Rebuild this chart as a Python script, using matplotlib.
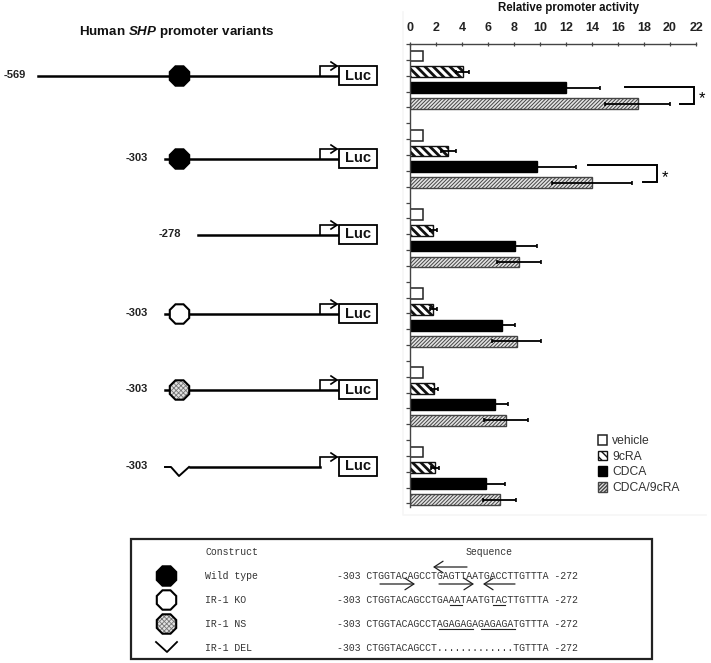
import matplotlib
matplotlib.use("Agg")
import matplotlib.pyplot as plt
from matplotlib.patches import Rectangle, RegularPolygon, FancyArrowPatch
import numpy as np

plt.rcParams['font.family'] = ['Liberation Sans', 'DejaVu Sans']
plt.rcParams['mathtext.fontset'] = 'custom'
plt.rcParams['mathtext.bfit'] = 'Liberation Sans:italic:bold'

W, H = 711, 663
GROUPS = 6
vehicle = [1, 1, 1, 1, 1, 1]
cra = [4.05, 2.95, 1.8, 1.8, 1.87, 1.92]
cdca = [12.0, 9.8, 8.1, 7.1, 6.55, 5.85]
combo = [17.5, 14.0, 8.4, 8.2, 7.4, 6.9]
cra_err = [0.5, 0.55, 0.3, 0.3, 0.25, 0.33]
cdca_err = [2.6, 3.0, 1.7, 1.0, 0.95, 1.45]
combo_err = [2.5, 3.1, 1.7, 1.9, 1.7, 1.25]
xticks = list(range(0, 23, 2))
series_names = ['vehicle', '9cRA', 'CDCA', 'CDCA/9cRA']

row_y = [76, 159, 235, 314, 390, 467]
row_labels = ['-569', '-303', '-278', '-303', '-303', '-303']
row_label_x = [15, 137, 170, 137, 137, 137]
row_start = [38, 165, 198, 165, 165, 165]
row_site = ['wt', 'wt', None, 'ko', 'ns', 'del']

fig = plt.figure(figsize=(W / 100, H / 100), dpi=100, facecolor='white')

# ---------- overlay in pixel coordinates ----------
ov = fig.add_axes([0, 0, 1, 1], zorder=3)
ov.set_xlim(0, W); ov.set_ylim(H, 0); ov.axis('off'); ov.patch.set_alpha(0)

# faint panel edge around the chart
ov.plot([403, 403, 706], [12, 515, 515], color='#f6f6f6', lw=1.2, zorder=0)

# ---------- bar chart ----------
L, R, T, B = 410, 696, 44, 507
ax = fig.add_axes([L / W, 1 - B / H, (R - L) / W, (B - T) / H], zorder=2)
slot = 15.84
ax.set_xlim(0, 22)
ax.set_ylim((B - 56) / slot, (T - 56) / slot)
pos = np.arange(GROUPS) * 5
ec = '#111111'
h = 0.68
ax.barh(pos, vehicle, h, color='white', edgecolor='#222222', lw=1.1, label=series_names[0])
with plt.rc_context({'hatch.linewidth': 2.0}):
    ax.barh(pos + 1, cra, h, color='white', edgecolor=ec, lw=1.0, hatch='\\\\\\\\', label=series_names[1])
ax.barh(pos + 2, cdca, h, color='black', edgecolor='black', lw=1.0, label=series_names[2])
with plt.rc_context({'hatch.linewidth': 0.7}):
    ax.barh(pos + 3, combo, h, color='#e4e4e4', edgecolor='#444444', lw=1.0, hatch='/////////', label=series_names[3])
ekw = dict(fmt='none', ecolor='black', elinewidth=1.3, capsize=1.6, capthick=1.2)
ax.errorbar(cra, pos + 1, xerr=cra_err, **ekw)
ax.errorbar(cdca, pos + 2, xerr=cdca_err, **ekw)
ax.errorbar(combo, pos + 3, xerr=combo_err, **ekw)

ax.xaxis.tick_top()
ax.set_xticks(xticks)
ax.set_xticklabels([str(t) for t in xticks], fontsize=9, fontweight='bold', color='#222222')
ax.tick_params(axis='x', length=3, width=0.9, pad=6, direction='inout', color='#444444')
ax.set_yticks(np.arange(-0.75, 29, 1))
ax.set_yticklabels([])
ax.tick_params(axis='y', length=3, width=0.9, direction='out', color='#444444')
for s in ['right', 'bottom']:
    ax.spines[s].set_visible(False)
for s in ['top', 'left']:
    ax.spines[s].set_linewidth(1.0); ax.spines[s].set_color('#444444')
ax.patch.set_alpha(0)
ax.legend(loc='lower left', bbox_to_anchor=((598 - L) / (R - L), (B - 494) / (B - T)),
          frameon=False, fontsize=8.7, labelcolor='#333333', handlelength=0.75, handleheight=0.85,
          handletextpad=0.42, labelspacing=0.3, borderpad=0, borderaxespad=0)

# ---------- titles ----------
ov.text(569, 8, 'Relative promoter activity', ha='center', va='center', fontsize=8.3, fontweight='bold', color='#111111')
ov.text(177, 32, r'Human $\mathbfit{SHP}$ promoter variants', ha='center', va='center', fontsize=9.6, fontweight='bold', color='#111111')

# ---------- brackets ----------
for xa, ya, xb, yb, xc, sx, sy in [(625, 87, 694, 104, 680, 702, 99), (588, 165, 657, 182, 643, 665, 178)]:
    ov.plot([xa, xb, xb, xc], [ya, ya, yb, yb], color='black', lw=1.4, solid_joinstyle='miter')
    ov.text(sx, sy, '*', ha='center', va='center', fontsize=12, color='black')

# ---------- promoter schematic ----------
def octagon(x, y, r, kind):
    fc = {'wt': 'black', 'ko': 'white', 'ns': '#e2e2e2'}[kind]
    if kind == 'ns':
        with plt.rc_context({'hatch.linewidth': 0.6}):
            ov.add_patch(RegularPolygon((x, y), 8, radius=r, orientation=np.pi / 8, fc=fc, ec='#777777', lw=0, zorder=5, hatch='xxxxxxx'))
        fc = 'none'
    ov.add_patch(RegularPolygon((x, y), 8, radius=r, orientation=np.pi / 8, fc=fc, ec='black', lw=1.5, zorder=5))

for y, lab, lx, x0, site in zip(row_y, row_labels, row_label_x, row_start, row_site):
    ov.text(lx, y - 1, lab, ha='center', va='center', fontsize=8, fontweight='bold', color='#222222')
    if site == 'del':
        ov.plot([x0, 171, 179, 189], [y, y, y + 9, y], color='black', lw=1.4)
        ov.plot([190, 320], [y, y], color='black', lw=1.8)
    else:
        ov.plot([x0, 339], [y, y], color='black', lw=1.8)
    if site in ('wt', 'ko', 'ns'):
        octagon(179.5, y, 10.5, site)
    ov.plot([320, 320, 337], [y, y - 10, y - 10], color='black', lw=1.2, solid_joinstyle='miter')
    ov.plot([331, 337, 331], [y - 14, y - 10, y - 6], color='black', lw=1.2)
    ov.add_patch(Rectangle((339, y - 10), 38, 19, fc='white', ec='black', lw=1.3, zorder=5))
    ov.text(358, y - 0.5, 'Luc', ha='center', va='center', fontsize=10.5, fontweight='bold', color='#111111', zorder=6)

# ---------- key box ----------
ov.add_patch(Rectangle((131, 539), 521, 120, fc='white', ec='#222222', lw=1.6))
mono = 'Liberation Mono'
ts = 7.15
tc = '#333333'
key_y = [576, 600, 624, 648]
key_names = ['Wild type', 'IR-1 KO', 'IR-1 NS', 'IR-1 DEL']
key_seqs = ['-303 CTGGTACAGCCTGAGTTAATGACCTTGTTTA -272',
            '-303 CTGGTACAGCCTGAAATAATGTACTTGTTTA -272',
            '-303 CTGGTACAGCCTAGAGAGAGAGAGATGTTTA -272',
            '-303 CTGGTACAGCCT.............TGTTTA -272']
key_kinds = ['wt', 'ko', 'ns', 'del']
ov.text(205, 552, 'Construct', family=mono, fontsize=ts, va='center', color=tc)
ov.text(466, 552, 'Sequence', family=mono, fontsize=ts, va='center', color=tc)
for y, n, s, k in zip(key_y, key_names, key_seqs, key_kinds):
    ov.text(205, y, n, family=mono, fontsize=ts, va='center', color=tc)
    ov.text(337, y, s, family=mono, fontsize=ts, va='center', color=tc)
    if k == 'del':
        ov.plot([156, 167, 177], [642, 652, 642], color='black', lw=1.3)
    else:
        octagon(166.5, y, 10.5, k)

for a, b, y in [(467, 433, 567), (380, 415, 584), (439, 474, 584), (515, 483, 584)]:
    ov.add_patch(FancyArrowPatch((a, y), (b, y), arrowstyle='->,head_length=4,head_width=2.6', mutation_scale=1.6, lw=0.9, color='#222222', shrinkA=0, shrinkB=0, zorder=6))
for a, b, y in [(450, 462, 605), (493, 505, 605), (439, 473, 629), (481, 515, 629)]:
    ov.plot([a, b], [y, y], color='#222222', lw=0.8)

fig.savefig('out.png', dpi=100)
